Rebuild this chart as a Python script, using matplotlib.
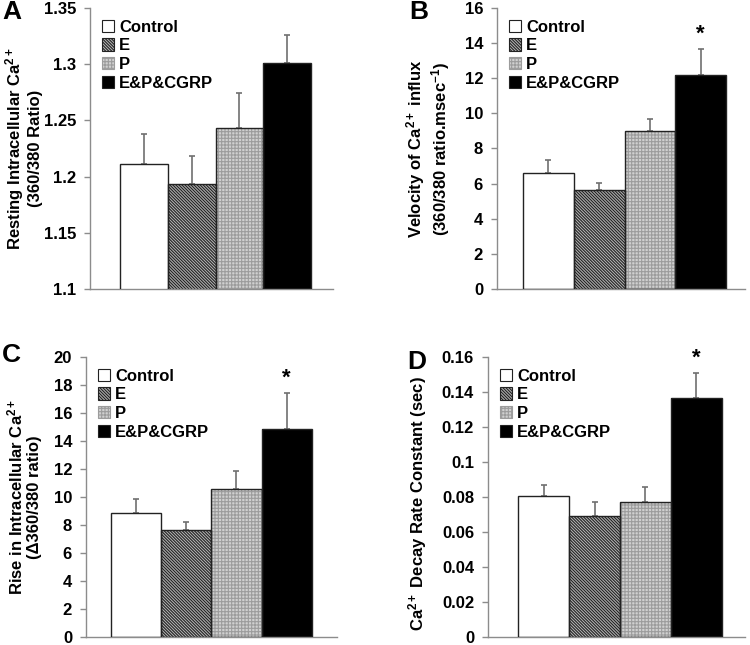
import matplotlib
matplotlib.use("Agg")
import matplotlib.pyplot as plt
from matplotlib.patches import Patch
import numpy as np

plt.rcParams['font.family'] = ['Liberation Sans', 'DejaVu Sans']
plt.rcParams['font.weight'] = 'bold'
plt.rcParams['mathtext.fontset'] = 'custom'
plt.rcParams['mathtext.rm'] = 'Liberation Sans:bold'
plt.rcParams['mathtext.bf'] = 'Liberation Sans:bold'
plt.rcParams['mathtext.it'] = 'Liberation Sans:bold'
plt.rcParams['hatch.linewidth'] = 0.8

groups = ['Control', 'E', 'P', 'E&P&CGRP']

resting_mean = [1.211, 1.193, 1.243, 1.301]
resting_err = [0.027, 0.025, 0.031, 0.025]
velocity_mean = [6.6, 5.66, 8.99, 12.16]
velocity_err = [0.74, 0.38, 0.70, 1.50]
rise_mean = [8.85, 7.61, 10.58, 14.87]
rise_err = [1.04, 0.64, 1.30, 2.59]
decay_mean = [0.0806, 0.069, 0.0774, 0.1363]
decay_err = [0.0061, 0.0079, 0.0082, 0.0146]

W, H = 750, 645
fig = plt.figure(figsize=(7.5, 6.45), dpi=100)

def ax_at(l, r, t, b):
    return fig.add_axes([l / W, 1 - b / H, (r - l) / W, (b - t) / H])

styles = [
    dict(face='white', hatch=None, hcol='black'),
    dict(face='#b4b4b4', hatch='\\' * 11, hcol='#222222'),
    dict(face='#d0d0d0', hatch='+++++', hcol='#9c9c9c'),
    dict(face='black', hatch=None, hcol='black'),
]

GRAY = '#8c8c8c'

def panel(ax, means, errs, ylim, yticks, yticklabels, xlim, ylabel, letter, letter_xy, star,
          ylabel_x, ylabel_y=0.5):
    x = np.arange(len(groups))
    for i in range(len(groups)):
        st = styles[i]
        ax.bar(x[i], means[i], width=1.0, color=st['face'], hatch=st['hatch'],
               edgecolor=st['hcol'], linewidth=0, zorder=2)
        ax.bar(x[i], means[i], width=1.0, fill=False, edgecolor='#222222', linewidth=1.0, zorder=3)
    ax.errorbar(x, means, yerr=[np.zeros(len(errs)), errs], fmt='none', ecolor='#707070',
                elinewidth=1.2, capsize=2.5, capthick=1.2, zorder=1)
    if star:
        ax.text(x[3], means[3] + errs[3] + (ylim[1] - ylim[0]) * 0.015, '*', ha='center',
                va='bottom', fontsize=16, fontweight='bold')
    ax.set_ylim(*ylim)
    ax.set_xlim(*xlim)
    ax.set_yticks(yticks)
    ax.set_yticklabels(yticklabels, fontsize=12, fontweight='bold')
    ax.set_xticks([])
    for s in ['top', 'right']:
        ax.spines[s].set_visible(False)
    for s in ['left', 'bottom']:
        ax.spines[s].set_color(GRAY)
        ax.spines[s].set_linewidth(1.0)
    ax.tick_params(axis='y', colors=GRAY, labelcolor='black', length=4, width=1.0, pad=6)
    ax.set_ylabel(ylabel, fontsize=12, fontweight='bold', linespacing=1.15)
    ax.yaxis.set_label_coords(ylabel_x, ylabel_y)
    handles = []
    for i in range(len(groups)):
        st = styles[i]
        handles.append(Patch(facecolor=st['face'], hatch=st['hatch'],
                             edgecolor='#222222' if st['hatch'] is None else st['hcol'],
                             linewidth=0.8, label=groups[i]))
    ax.legend(handles=handles, loc='upper left', bbox_to_anchor=(0.0, 1.0),
              frameon=False, handlelength=0.75, handleheight=0.75,
              handletextpad=0.3, labelspacing=0.22, borderaxespad=0.3,
              prop={'weight': 'bold', 'size': 12})
    fig.text(letter_xy[0] / W, 1 - letter_xy[1] / H, letter, fontsize=19, fontweight='bold',
             ha='left', va='top')

axA = ax_at(90, 333, 8, 289)
panel(axA, resting_mean, resting_err, (1.1, 1.35),
      [1.1, 1.15, 1.2, 1.25, 1.3, 1.35], ['1.1', '1.15', '1.2', '1.25', '1.3', '1.35'],
      (-1.128, 3.96),
      'Resting Intracellular Ca$^{2+}$\n(360/380 Ratio)', 'A', (2, 0), False, -0.195)

axB = ax_at(497, 745, 8, 289)
panel(axB, velocity_mean, velocity_err, (0, 16),
      list(range(0, 17, 2)), [str(v) for v in range(0, 17, 2)],
      (-1.01, 3.87),
      'Velocity of Ca$^{2+}$ influx\n(360/380 ratio.msec$^{-1}$)', 'B', (409, 0), True, -0.18)

axC = ax_at(86, 337, 357, 637)
panel(axC, rise_mean, rise_err, (0, 20),
      list(range(0, 21, 2)), [str(v) for v in range(0, 21, 2)],
      (-0.99, 4.0),
      'Rise in Intracellular Ca$^{2+}$\n(Δ360/380 ratio)', 'C', (2, 343), True, -0.175)

axD = ax_at(488, 745, 357, 637)
panel(axD, decay_mean, decay_err, (0, 0.16),
      [0, 0.02, 0.04, 0.06, 0.08, 0.1, 0.12, 0.14, 0.16],
      ['0', '0.02', '0.04', '0.06', '0.08', '0.1', '0.12', '0.14', '0.16'],
      (-1.096, 3.96),
      'Ca$^{2+}$ Decay Rate Constant (sec)', 'D', (407, 350), True, -0.23, 0.475)

fig.savefig('out.png', dpi=100)
